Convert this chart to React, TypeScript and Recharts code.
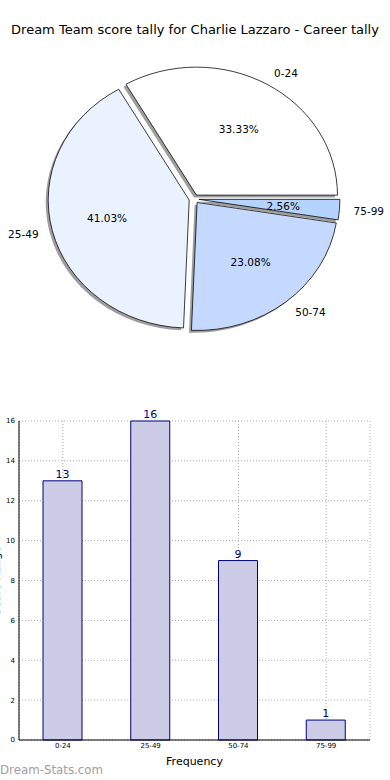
import React from 'react';
import { PieChart, Pie, Cell, BarChart, Bar, XAxis, YAxis, CartesianGrid, LabelList } from 'recharts';

const bands = ['0-24', '25-49', '50-74', '75-99'];
const tally = [13, 16, 9, 1];
const sliceColors = ['#ffffff', '#eaf1ff', '#c5d9ff', '#b4d4ff'];
const yTicks = [0, 2, 4, 6, 8, 10, 12, 14, 16];

const pieData = bands.map((name, i) => ({ name, value: tally[i] }));
const barData = bands.map((name, i) => ({ name, value: tally[i] }));

const FONT = '"DejaVu Sans", sans-serif';
const RAD = Math.PI / 180;

// pie geometry (circle drawn, then squashed vertically into the ellipse matplotlib made)
const CX = 194;
const CY = 199;
const R = 141;
const SY = 128 / 141;
const EXPLODE = 0.035;
const SHADOW_X = -2.5;
const SHADOW_Y = 2.6;

const total = tally.reduce((a, b) => a + b, 0);
let acc = 0;
const midAngles = tally.map((v) => {
  const m = ((acc + v / 2) / total) * 360;
  acc += v;
  return m;
});

const renderLabel = (slice: number) => (p: any) => {
  if (p.index !== slice) return null;
  const a = -p.midAngle * RAD;
  const cos = Math.cos(a);
  const sin = Math.sin(a);
  const px = p.cx + 0.6 * R * cos;
  const py = p.cy + 0.6 * R * sin;
  const lx = p.cx + 1.1 * R * cos;
  const ly = p.cy + 1.1 * R * sin;
  const common = { fontFamily: FONT, fontSize: 10.5, fill: '#000', dominantBaseline: 'central' as const };
  return (
    <g>
      <text {...common} textAnchor="middle" transform={`translate(${px},${py}) scale(1,${1 / SY})`}>
        {(p.percent * 100).toFixed(2)}%
      </text>
      <text {...common} textAnchor={cos >= 0 ? 'start' : 'end'} transform={`translate(${lx},${ly}) scale(1,${1 / SY})`}>
        {p.name}
      </text>
    </g>
  );
};

export default function App() {
  return (
    <div style={{ position: 'absolute', left: 0, top: 0, width: 390, height: 780, overflow: 'hidden', background: '#fff', fontFamily: FONT }}>
      <div style={{ position: 'absolute', left: 0, top: 21, width: 390, height: 18, lineHeight: '18px', textAlign: 'center', fontSize: 13, color: '#000', whiteSpace: 'nowrap' }}>
        Dream Team score tally for Charlie Lazzaro - Career tally
      </div>

      <div style={{ position: 'absolute', left: 0, top: 0, width: 390, height: 400, transform: `scaleY(${SY})`, transformOrigin: `0px ${CY}px` }}>
        <PieChart width={390} height={400} margin={{ top: 0, right: 0, bottom: 0, left: 0 }}>
          {bands.map((_, i) => {
            const ox = EXPLODE * R * Math.cos(midAngles[i] * RAD);
            const oy = -EXPLODE * R * Math.sin(midAngles[i] * RAD);
            return [
              <Pie
                key={'shadow' + i}
                data={pieData}
                dataKey="value"
                nameKey="name"
                cx={CX + ox + SHADOW_X}
                cy={CY + oy + SHADOW_Y}
                outerRadius={R}
                startAngle={0}
                endAngle={360}
                label={false}
                labelLine={false}
                isAnimationActive={false}
              >
                {pieData.map((_, j) => (
                  <Cell key={j} fill={j === i ? '#000' : 'none'} fillOpacity={0.38} stroke="none" />
                ))}
              </Pie>,
              <Pie
                key={'wedge' + i}
                data={pieData}
                dataKey="value"
                nameKey="name"
                cx={CX + ox}
                cy={CY + oy}
                outerRadius={R}
                startAngle={0}
                endAngle={360}
                label={renderLabel(i)}
                labelLine={false}
                isAnimationActive={false}
              >
                {pieData.map((_, j) => (
                  <Cell key={j} fill={j === i ? sliceColors[j] : 'none'} stroke={j === i ? '#000' : 'none'} strokeWidth={0.8} />
                ))}
              </Pie>,
            ];
          })}
        </PieChart>
      </div>

      <div style={{ position: 'absolute', left: 0, top: 400, width: 390, height: 380 }}>
        <BarChart width={390} height={380} data={barData} margin={{ top: 21, right: 20, bottom: 0, left: 0 }} barSize={39}>
          <XAxis
            dataKey="name"
            height={40}
            interval={0}
            tick={{ fontSize: 7, fill: '#000', fontFamily: FONT }}
            tickLine={false}
            tickSize={2}
            tickMargin={1}
            axisLine={{ stroke: '#000' }}
            label={{ value: 'Frequency', position: 'insideBottom', offset: 15, fontSize: 11, fill: '#000', fontFamily: FONT }}
          />
          <XAxis xAxisId="top" orientation="top" dataKey="name" height={0} tick={false} tickLine={false} axisLine={{ stroke: '#000' }} />
          <YAxis
            domain={[0, 16]}
            ticks={yTicks}
            width={19}
            interval={0}
            tick={{ fontSize: 7, fill: '#000', fontFamily: FONT }}
            tickLine={false}
            tickSize={2}
            tickMargin={2}
            axisLine={{ stroke: '#000' }}
            label={{ value: 'Score Range', angle: -90, position: 'insideLeft', offset: -4, fontSize: 11, fill: '#000', fontFamily: FONT, style: { textAnchor: 'middle' } }}
          />
          <YAxis yAxisId="right" orientation="right" domain={[0, 16]} width={0} tick={false} tickLine={false} axisLine={{ stroke: '#000' }} />
          <Bar dataKey="value" fill="#ccccE6" stroke="#000080" strokeWidth={1} isAnimationActive={false}>
            <LabelList dataKey="value" position="top" offset={3} fill="#000080" fontSize={11} fontFamily={FONT} />
          </Bar>
          <CartesianGrid stroke="#a8a8a8" strokeDasharray="1 2" />
        </BarChart>
      </div>

      <div style={{ position: 'absolute', left: 0, top: 763, fontSize: 11.8, color: '#a0a0a0', whiteSpace: 'nowrap' }}>
        Dream-Stats.com
      </div>
    </div>
  );
}
